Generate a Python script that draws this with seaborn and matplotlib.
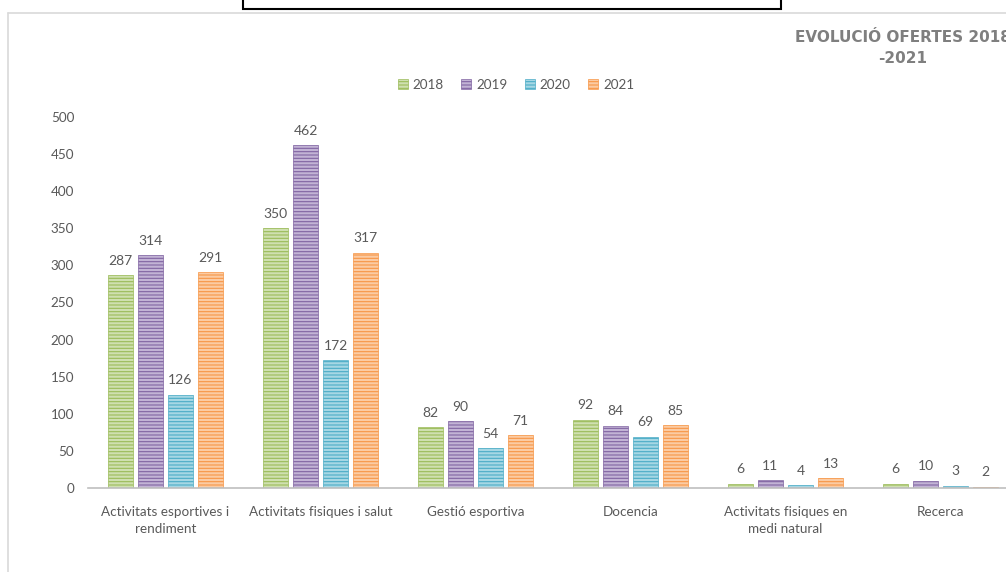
import numpy as np
import pandas as pd

import matplotlib.pyplot as plt
import matplotlib.patches as mpatches
from matplotlib.lines import Line2D
import seaborn as sns

# data
categories = ['Activitats esportives i\nrendiment', 'Activitats fisiques i salut',
              'Gestió esportiva', 'Docencia', 'Activitats fisiques en\nmedi natural',
              'Recerca']
years = ['2018', '2019', '2020', '2021']
v2018 = [287, 350, 82, 92, 6, 6]
v2019 = [314, 462, 90, 84, 11, 10]
v2020 = [126, 172, 54, 69, 4, 3]
v2021 = [291, 317, 71, 85, 13, 2]

dark = ['#9BBB59', '#8064A2', '#4BACC6', '#F79646']
light = ['#CFE0B0', '#C2B3D5', '#A6D7E4', '#FBCBA3']
grey = '#595959'

df = pd.DataFrame({
    'categoria': categories * 4,
    'any': [y for y in years for _ in categories],
    'valor': v2018 + v2019 + v2020 + v2021,
})

sns.set_style('white')
plt.rcParams['font.family'] = ['Lato', 'DejaVu Sans']
plt.rcParams['hatch.linewidth'] = 0.8

fig = plt.figure(figsize=(10.06, 5.72), dpi=100)
ax = fig.add_axes([88 / 1006, 1 - 488 / 572, 930 / 1006, 371 / 572])

sns.barplot(data=df, x='categoria', y='valor', hue='any', palette=dark,
            width=0.775, gap=0.17, legend=False, ax=ax)

for i, cont in enumerate(ax.containers):
    for bar in cont:
        bar.set_facecolor(light[i])
        bar.set_edgecolor(dark[i])
        bar.set_hatch('-----')
        bar.set_linewidth(0.5)
    ax.bar_label(cont, padding=6, color=grey, fontsize=10)

ax.set_ylim(0, 500)
ax.set_xlim(-0.5, 5.5)
ax.set_yticks(range(0, 501, 50))
ax.set_xlabel('')
ax.set_ylabel('')
ax.tick_params(axis='y', length=0, pad=10, labelcolor=grey, labelsize=9.7)
ax.tick_params(axis='x', length=0, pad=13, labelcolor=grey, labelsize=9.7)
for lab in ax.get_xticklabels():
    lab.set_linespacing(1.5)
for s in ['top', 'right', 'left']:
    ax.spines[s].set_visible(False)
ax.spines['bottom'].set_color('#BFBFBF')
ax.spines['bottom'].set_linewidth(1.2)

# legend
handles = [mpatches.Patch(facecolor=light[i], edgecolor=dark[i], hatch='-----',
                          linewidth=0.5, label=years[i]) for i in range(4)]
fig.legend(handles=handles, loc='center', bbox_to_anchor=(516 / 1006, 1 - 85 / 572),
           ncol=4, frameon=False, fontsize=9.7, handlelength=0.75, handleheight=0.75,
           handletextpad=0.35, columnspacing=1.3, labelcolor=grey)

# title
fig.text(903 / 1006, 1 - 48 / 572, 'EVOLUCIÓ OFERTES 2018\n-2021', ha='center', va='center',
         fontsize=11, fontweight='bold', color='#7F7F7F', family='DejaVu Sans',
         linespacing=1.5)

# chart frame and box above
fig.add_artist(Line2D([8 / 1006, 8 / 1006], [0, 1 - 13 / 572], color='#D9D9D9', lw=1.2))
fig.add_artist(Line2D([8 / 1006, 1], [1 - 13 / 572, 1 - 13 / 572], color='#D9D9D9', lw=1.2))
fig.add_artist(mpatches.Rectangle((243 / 1006, 1 - 9 / 572), 538 / 1006, 20 / 572,
                                  facecolor='white', edgecolor='black', lw=1.5))

fig.savefig('out.png', dpi=100)
